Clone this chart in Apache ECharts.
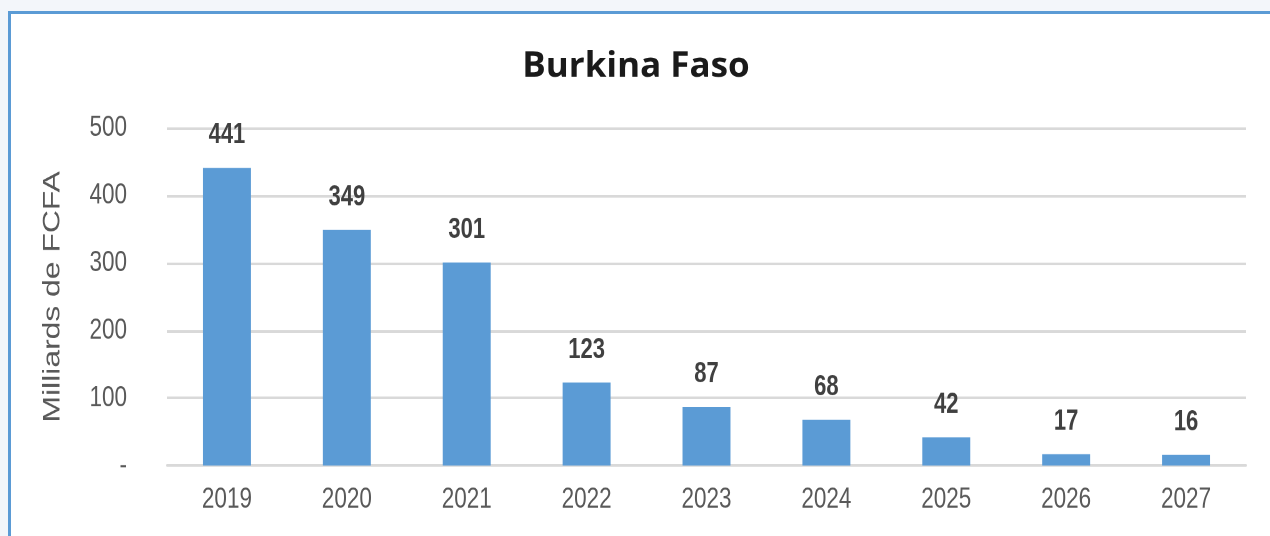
<!DOCTYPE html>
<html><head><meta charset="utf-8">
<script src="https://cdn.jsdelivr.net/npm/echarts@6/dist/echarts.min.js"></script>
<style>
html,body{margin:0;padding:0;width:1270px;height:536px;background:#f3f6fa;overflow:hidden;}
#panel{position:absolute;left:8px;top:11px;width:1262px;height:525px;background:#fff;border-left:3px solid #5b9bd5;border-top:3px solid #5b9bd5;box-sizing:border-box;}
/* the reference chart is drawn vertically stretched (x1.3); reproduce that aspect */
#chart{position:absolute;left:0;top:0;width:1270px;height:412.3px;transform:scaleY(1.3);transform-origin:0 0;}
</style></head>
<body>
<div id="panel"></div>
<div id="chart"></div>
<script>
const title = 'Burkina Faso';
const yAxisName = 'Milliards de FCFA';
const categories = ['2019','2020','2021','2022','2023','2024','2025','2026','2027'];
const values = [441, 349, 301, 123, 87, 68, 42, 17, 16];
const yTicks = [0, 100, 200, 300, 400, 500];

const S = 1.3;
const chart = echarts.init(document.getElementById('chart'), null, {renderer:'canvas', devicePixelRatio:2});
chart.setOption({
  animation:false,
  backgroundColor:'transparent',
  graphic:[{type:'text', x:636, y:67/S, scaleY:1/S,
    style:{text:title, align:'center', verticalAlign:'middle',
      font:'bold 35px "Open Sans"', fill:'#1a1a1a'}}],
  grid:{left:167,right:24,top:128/S,bottom:(536-466)/S,containLabel:false},
  xAxis:{type:'category',data:categories,
    axisLine:{show:true,lineStyle:{color:'#d9d9d9',width:2}},
    axisTick:{show:false},
    axisLabel:{color:'#595959',fontFamily:'Liberation Sans',fontSize:22.5,margin:14.5}},
  yAxis:{type:'value',min:yTicks[0],max:yTicks[yTicks.length-1],interval:100,
    name:yAxisName,nameLocation:'middle',nameGap:102,
    nameTextStyle:{color:'#595959',fontFamily:'Liberation Sans',fontSize:24.5},
    axisLine:{show:false},axisTick:{show:false},
    splitLine:{lineStyle:{color:'#d9d9d9',width:2}},
    axisLabel:{color:'#595959',fontFamily:'Liberation Sans',fontSize:22.5,margin:40,
      formatter:v=>v===0?'-':String(v)}},
  series:[{type:'bar',data:values,barWidth:'40%',
    itemStyle:{color:'#5b9bd5'},
    label:{show:true,position:'top',distance:14,color:'#404040',fontFamily:'Liberation Sans',fontWeight:'bold',fontSize:22}}]
});
</script>
</body></html>
